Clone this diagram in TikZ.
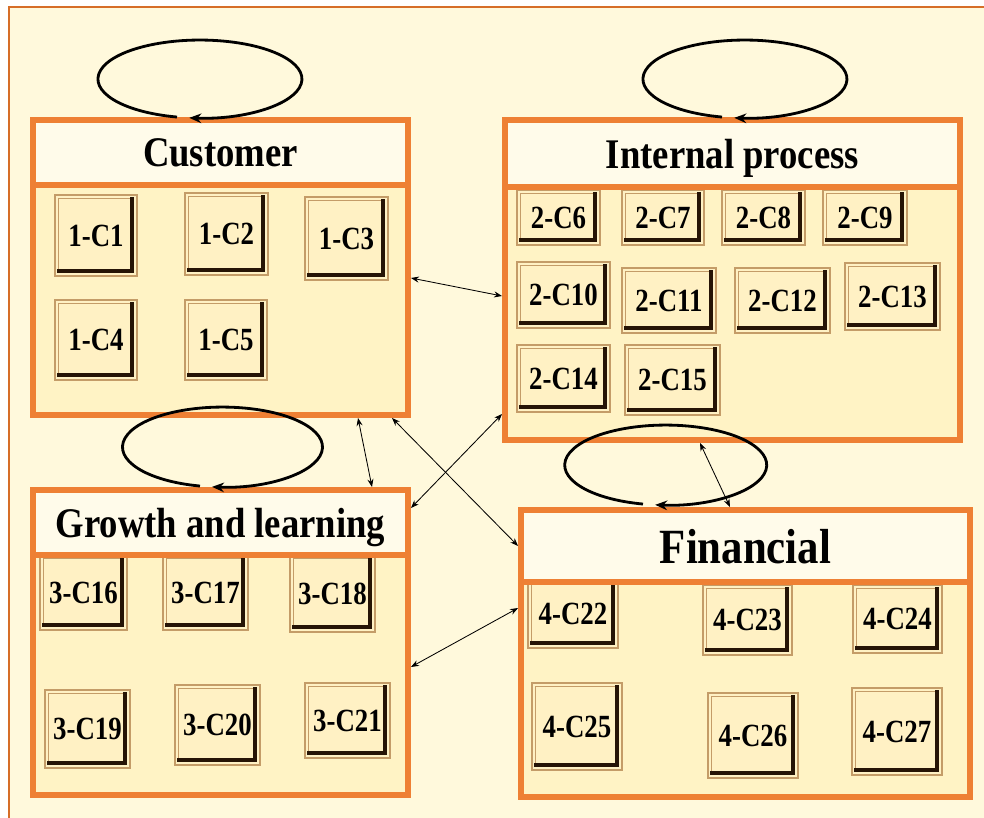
\documentclass[tikz,border=0pt]{standalone}
\usepackage{fontspec}
\usepackage{tikz}
\usetikzlibrary{arrows.meta, positioning, calc, fit}
\newfontfamily\headfont[FakeStretch=0.87]{Liberation Serif}
\newfontfamily\cellfont[FakeStretch=0.83]{Liberation Serif}
\definecolor{cPage}{RGB}{255,249,220}
\definecolor{cFrame}{RGB}{214,110,40}
\definecolor{cOrange}{RGB}{238,128,52}
\definecolor{cBody}{RGB}{255,243,197}
\definecolor{cBand}{RGB}{255,251,234}
\definecolor{cCell}{RGB}{255,241,196}
\definecolor{cTan}{RGB}{196,156,104}
\definecolor{cShadow}{RGB}{38,20,6}
\tikzset{
	panel/.style   ={rectangle, draw=cOrange, line width=4.2pt, fill=cBody, inner sep=0pt},
	band/.style    ={rectangle, draw=cOrange, line width=4.2pt, fill=cBand, inner sep=0pt},
	headtext/.style={text depth=0pt, inner sep=0pt, font=\headfont\bfseries\fontsize{30pt}{32pt}\selectfont},
	celltext/.style={text depth=0pt, inner sep=0pt, font=\cellfont\bfseries\fontsize{23pt}{25pt}\selectfont},
	% bevelled criterion buttons
	cellbox/.style={rectangle, draw=cTan, line width=0.8pt, fill=cCell, inner sep=0pt,
	               path picture={
	                 \draw[cTan, line width=0.5pt] ([shift={(2.5pt,5pt)}]path picture bounding box.south west) rectangle ([shift={(-5pt,-2.5pt)}]path picture bounding box.north east);
	                 \draw[cShadow, line width=3.4pt] ([shift={(-3.5pt,-1.5pt)}]path picture bounding box.north east) |- ([shift={(1.5pt,3.5pt)}]path picture bounding box.south west);
	               }},
	selfloop/.style={-{Stealth[length=3mm, width=2.4mm]}, line width=2pt},
	link/.style    ={{Stealth[length=2mm, width=1.5mm]}-{Stealth[length=2mm, width=1.5mm]}, line width=0.6pt},
}

\begin{document}
\begin{tikzpicture}[x=0.25mm, y=-0.25mm]
	\useasboundingbox (0,0) rectangle (984,818);
	\fill[white] (0,0) rectangle (984,818);
	\draw[cFrame, line width=1.4pt, fill=cPage] (9,7) rectangle (1000,830);

	% panel bodies
	\node[panel, fit={(33,185) (408,415)}] (bcust) {};
	\node[panel, fit={(505,187) (960,440)}] (bint) {};
	\node[panel, fit={(33,555) (408,795)}] (bgrow) {};
	\node[panel, fit={(521,582) (970,797)}] (bfin) {};

	% criteria
	\foreach \lab/\xa/\ya/\xb/\yb in {
		1-C1/55/195/137/276, 1-C2/185/193/268/275, 1-C3/305/197/388/280,
		1-C4/55/300/137/380, 1-C5/185/300/267/380,
		2-C6/517/190/600/245, 2-C7/622/190/704/245, 2-C8/722/190/805/245, 2-C9/823/190/907/245,
		2-C10/517/262/610/328, 2-C11/622/268/716/333, 2-C12/735/268/830/333, 2-C13/845/263/940/330,
		2-C14/517/345/610/412, 2-C15/625/345/720/415,
		3-C16/40/555/127/630, 3-C17/163/555/248/630, 3-C18/290/555/375/632,
		3-C19/45/690/130/768, 3-C20/175/685/260/765, 3-C21/305/683/390/758,
		4-C22/528/580/618/648, 4-C23/703/585/792/655, 4-C24/853/585/942/653,
		4-C25/532/683/622/770, 4-C26/708/693/798/778, 4-C27/852/688/942/775}
		\node[cellbox, fit={(\xa,\ya) (\xb,\yb)}, label={[celltext]center:\lab}] (\lab) {};

	% title bands
	\node[band, fit={(33,120) (408,185)}, label={[headtext]center:Customer}] (tcust) {};
	\node[band, fit={(505,120) (960,187)}, label={[headtext]center:Internal process}] (tint) {};
	\node[band, fit={(33,490) (408,555)}, label={[headtext]center:Growth and learning}] (tgrow) {};
	\node[band, fit={(521,510) (970,582)},
	      label={[headtext, font=\headfont\bfseries\fontsize{35pt}{37pt}\selectfont]center:Financial}] (tfin) {};

	% self loops
	\draw[selfloop] ([shift={(-43.5,0)}]tcust.north) arc[start angle=103, end angle=456, x radius=102, y radius=39];
	\draw[selfloop] ([shift={(-10.5,0)}]tint.north) arc[start angle=103, end angle=456, x radius=102, y radius=39];
	\draw[selfloop] ([shift={(-20.5,-1)}]tgrow.north) arc[start angle=103, end angle=456, x radius=100, y radius=40];
	\draw[selfloop] ([shift={(-102.5,-3)}]tfin.north) arc[start angle=103, end angle=456, x radius=101, y radius=40];

	% links between perspectives
	\draw[link] ([shift={(0,-22)}]bcust.east) -- ([shift={(0,-17.5)}]bint.west);
	\draw[link] ([shift={(137.5,0)}]bcust.south) -- ([shift={(151.5,0)}]tgrow.north);
	\draw[link] ([shift={(171.5,0)}]bcust.south) -- (tfin.west);
	\draw[link] ([shift={(0,-14.5)}]tgrow.east) -- ([shift={(0,100.5)}]bint.west);
	\draw[link] ([shift={(0,-8)}]bgrow.east) -- ([shift={(0,-81.5)}]bfin.west);
	\draw[link] ([shift={(-32.5,0)}]bint.south) -- ([shift={(-15.5,0)}]tfin.north);
\end{tikzpicture}
\end{document}
